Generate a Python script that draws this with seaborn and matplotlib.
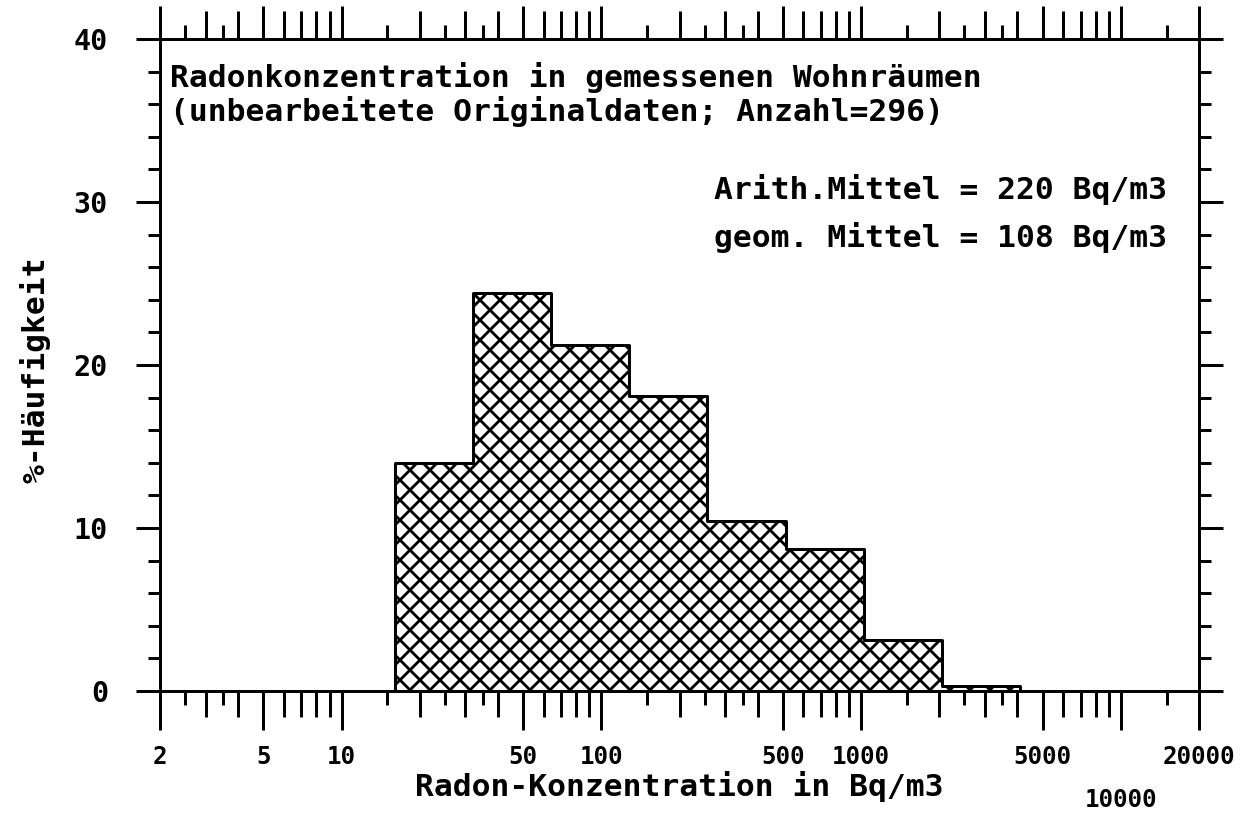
import numpy as np
import pandas as pd
import matplotlib
matplotlib.use("Agg")
import matplotlib.pyplot as plt
import seaborn as sns
from matplotlib.ticker import FixedLocator, FixedFormatter, NullFormatter, NullLocator, MultipleLocator

# Klassengrenzen in Bq/m3 und Anteil der Messungen in %
bin_edges = [16, 32, 64, 128, 256, 512, 1024, 2048, 4096]
percent = [14.0, 24.4, 21.2, 18.1, 10.4, 8.7, 3.1, 0.3]

x_major = [2, 5, 10, 50, 100, 500, 1000, 5000, 10000, 20000]
x_labels = ["2", "5", "10", "50", "100", "500", "1000", "5000", "10000", "20000"]

title_lines = ["Radonkonzentration in gemessenen Wohnräumen",
               "(unbearbeitete Originaldaten; Anzahl=296)"]
stats_lines = ["Arith.Mittel = 220 Bq/m3", "geom. Mittel = 108 Bq/m3"]

sns.set_style("white")
plt.rcParams["font.family"] = ["DejaVu Sans Mono", "DejaVu Sans"]
plt.rcParams["font.weight"] = "bold"
plt.rcParams["axes.labelweight"] = "bold"
for k in ["text.color", "axes.labelcolor", "xtick.color", "ytick.color", "axes.edgecolor"]:
    plt.rcParams[k] = "black"
plt.rcParams["hatch.linewidth"] = 1.7
plt.rcParams["hatch.color"] = "black"

edges = np.array(bin_edges, dtype=float)
df = pd.DataFrame({"radon": np.sqrt(edges[:-1] * edges[1:]), "prozent": percent})
log_bins = [float(v) for v in np.log10(edges)]

fig = plt.figure(figsize=(1253 / 120, 816 / 120), dpi=120)
ax = fig.add_axes([160 / 1253, 125 / 816, 1039 / 1253, 652 / 816])

sns.histplot(data=df, x="radon", weights="prozent", bins=log_bins, log_scale=True,
             element="step", fill=True, facecolor="white", edgecolor="black", alpha=1,
             hatch="xx", linewidth=1.8, ax=ax)

ax.set_xlim(2, 20000)
ax.set_ylim(0, 40)

# Teilstriche: lang (beschriftet), mittel, kurz
x_mid = [k * d for d in (1, 10, 100, 1000) for k in range(2, 10)
         if k * d not in x_major and 2 <= k * d <= 20000]
x_short = [k * d for d in (1, 10, 100, 1000, 10000) for k in (1.5, 2.5, 3.5)
           if 2 <= k * d <= 20000]

ax.xaxis.set_major_locator(FixedLocator(x_major))
ax.xaxis.set_major_formatter(FixedFormatter(x_labels))
ax.xaxis.set_minor_locator(FixedLocator(x_mid))
ax.xaxis.set_minor_formatter(NullFormatter())
ax.tick_params(axis="x", which="major", direction="out", length=23.4, width=1.8,
               bottom=True, top=False, pad=9, labelsize=14.5)
ax.tick_params(axis="x", which="minor", direction="out", length=15.6, width=1.8,
               bottom=True, top=False)

ax.yaxis.set_major_locator(MultipleLocator(10))
ax.yaxis.set_minor_locator(MultipleLocator(2))
ax.tick_params(axis="y", which="major", direction="out", length=14.4, width=1.8,
               left=True, right=True, pad=16.8, labelsize=17)
ax.tick_params(axis="y", which="minor", direction="out", length=7.2, width=1.8,
               left=True, right=True)

# 10000 tiefer setzen
ax.xaxis.get_major_ticks()[8].set_pad(35)

# obere Achse
axt = ax.twiny()
axt.set_xscale("log")
axt.set_xlim(2, 20000)
axt.xaxis.set_major_locator(FixedLocator(x_major))
axt.xaxis.set_minor_locator(FixedLocator(x_mid))
axt.xaxis.set_minor_formatter(NullFormatter())
axt.tick_params(axis="x", which="major", direction="out", length=19.8, width=1.8,
                top=True, bottom=False, labeltop=False, labelbottom=False)
axt.tick_params(axis="x", which="minor", direction="out", length=16.8, width=1.8,
                top=True, bottom=False)

# kurze Zwischenstriche oben und unten
axs = ax.twiny()
axs.set_xscale("log")
axs.set_xlim(2, 20000)
axs.xaxis.set_major_locator(FixedLocator(x_short))
axs.xaxis.set_minor_locator(NullLocator())
axs.tick_params(axis="x", which="major", direction="out", length=8.4, width=1.8,
                top=True, bottom=True, labeltop=False, labelbottom=False)

for a in (axt, axs):
    for s in a.spines.values():
        s.set_visible(False)
for s in ax.spines.values():
    s.set_visible(True)
    s.set_linewidth(1.8)
    s.set_color("black")

ax.set_xlabel("Radon-Konzentration in Bq/m3", fontsize=18.8)
ax.xaxis.set_label_coords(0.5, -0.1227)
ax.set_ylabel("%-Häufigkeit", fontsize=18.8)
ax.yaxis.set_label_coords(-0.105, 0.492)

ax.text(0.0096, 0.9264, title_lines[0], transform=ax.transAxes, fontsize=18.8,
        ha="left", va="baseline")
ax.text(0.0096, 0.8742, title_lines[1], transform=ax.transAxes, fontsize=18.8,
        ha="left", va="baseline")
ax.text(0.969, 0.7546, stats_lines[0], transform=ax.transAxes, fontsize=18.8,
        ha="right", va="baseline")
ax.text(0.969, 0.681, stats_lines[1], transform=ax.transAxes, fontsize=18.8,
        ha="right", va="baseline")

fig.savefig("out.png", dpi=120)
